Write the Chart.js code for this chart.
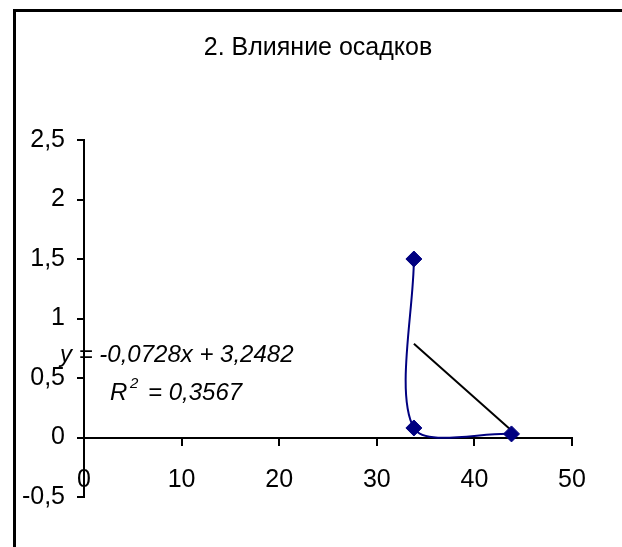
<!DOCTYPE html>
<html>
<head>
<meta charset="utf-8">
<script src="https://cdn.jsdelivr.net/npm/chart.js@4"></script>
<style>
    body { margin: 0; background: #fff; }
    #wrap { position: relative; width: 622px; height: 547px; overflow: hidden; }
    #frame {
        position: absolute; left: 13px; top: 9px; width: 700px; height: 600px;
        border-left: 3px solid #000; border-top: 3px solid #000;
    }
    #chart { position: absolute; left: 0; top: 0; }
</style>
</head>
<body>
<div id="wrap">
    <div id="frame"></div>
    <canvas id="chart" width="622" height="547"></canvas>
</div>
<script>
// Precipitation vs. effect
const precipX = [33.8, 33.8, 43.8];
const effectY = [1.5, 0.08, 0.03];

// Linear trend as printed on the chart
const trendSlope = -0.0728;
const trendIntercept = 3.2482;
const trendLabel = 'y = -0,0728x + 3,2482';
const r2Label = '= 0,3567';

const chartTitle = '2. Влияние осадков';

const FONT = "'Liberation Sans', Arial, sans-serif";

const points = precipX.map((x, i) => ({ x: x, y: effectY[i] }));
const xMin = Math.min(...precipX), xMax = Math.max(...precipX);
const trendPoints = [xMin, xMax].map(x => ({ x: x, y: trendSlope * x + trendIntercept }));

function commaTick(value) {
    return String(Math.round(value * 10) / 10).replace('.', ',');
}

// title and trendline equation text
const textPlugin = {
    id: 'chartText',
    afterDraw(chart) {
        const ctx = chart.ctx;
        ctx.save();
        ctx.fillStyle = '#000';
        ctx.textBaseline = 'middle';

        ctx.font = '25px ' + FONT;
        ctx.textAlign = 'center';
        ctx.fillText(chartTitle, 318, 48);

        ctx.textAlign = 'left';
        ctx.font = 'italic 24px ' + FONT;
        ctx.fillText(trendLabel, 60, 355);

        ctx.fillText('R', 110, 393);
        ctx.font = 'italic 15px ' + FONT;
        ctx.fillText('2', 130, 384);
        ctx.font = 'italic 24px ' + FONT;
        ctx.fillText(r2Label, 148, 393);
        ctx.restore();
    }
};

new Chart(document.getElementById('chart'), {
    type: 'scatter',
    data: {
        datasets: [{
            label: 'Осадки',
            data: points,
            showLine: true,
            tension: 0.3,
            borderColor: '#000080',
            borderWidth: 2,
            pointStyle: 'rectRot',
            pointRadius: 8,
            pointBackgroundColor: '#000080',
            pointBorderColor: '#000080',
            pointBorderWidth: 1
        }, {
            label: 'Линейный тренд',
            data: trendPoints,
            showLine: true,
            borderColor: '#000',
            borderWidth: 2,
            pointRadius: 0
        }]
    },
    options: {
        responsive: false,
        animation: false,
        layout: { padding: { left: 0, right: 50, top: 140, bottom: 50 } },
        plugins: {
            legend: { display: false },
            tooltip: { enabled: false }
        },
        scales: {
            x: {
                type: 'linear',
                min: 0,
                max: 50,
                position: { y: 0 },
                ticks: { stepSize: 10, color: '#000', font: { family: FONT, size: 25 }, padding: 21 },
                grid: { drawOnChartArea: false, drawTicks: true, tickLength: 7, color: '#000', lineWidth: 2 },
                border: { display: true, color: '#000', width: 2 }
            },
            y: {
                type: 'linear',
                min: -0.5,
                max: 2.5,
                position: 'left',
                afterFit(scale) { scale.width = 84; },
                ticks: { stepSize: 0.5, color: '#000', font: { family: FONT, size: 25 }, padding: 12, callback: commaTick },
                grid: { drawOnChartArea: false, drawTicks: true, tickLength: 7, color: '#000', lineWidth: 2 },
                border: { display: true, color: '#000', width: 2 }
            }
        }
    },
    plugins: [textPlugin]
});
</script>
</body>
</html>
